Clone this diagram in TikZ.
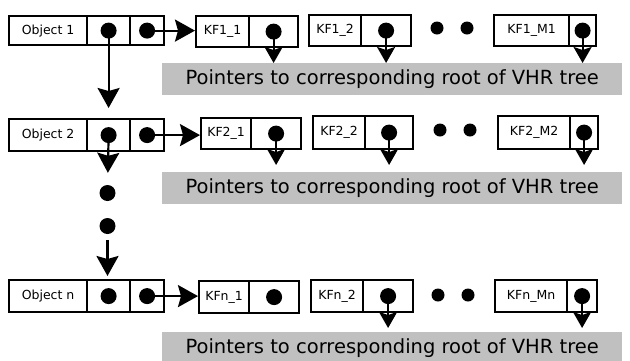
\documentclass[tikz,border=0pt]{standalone}
\usepackage{fontspec}
\setmainfont{DejaVu Sans}
\usetikzlibrary{arrows.meta}
\definecolor{barfill}{RGB}{192,192,192}

\begin{document}
\begin{tikzpicture}[x=1pt,y=-1pt,
  cell/.style={draw, line width=2.2pt, inner sep=0pt, anchor=north west,
    font=\fontsize{12.5}{14}\selectfont},
  ptrdot/.style={circle, fill, inner sep=0pt, minimum size=16pt},
  gapdot/.style={circle, fill, inner sep=0pt, minimum size=13pt},
  link/.style={line width=2.2pt, -{Stealth[length=20pt,width=22pt,inset=3pt]}},
  ref/.style={line width=2.2pt, -{Stealth[length=16pt,width=18pt,inset=3pt]}},
  bar/.style={fill=barfill, anchor=north west, inner sep=0pt,
    minimum width=460pt, minimum height=32pt,
    font=\fontsize{19.5}{22}\selectfont}
]
\useasboundingbox (0,0) rectangle (630,360);
\clip (0,0) rectangle (630,360);

% ---------- object 1 ----------
\node[cell, minimum width=78pt, minimum height=29pt] (o1t) at (8,15) {Object 1};
\node[cell, minimum width=43pt, minimum height=29pt] (o1a) at (86,15) {};
\node[cell, minimum width=34pt, minimum height=29pt] (o1b) at (129,15) {};
\node[cell, minimum width=53pt, minimum height=31pt] (k11t) at (195,15) {KF1\_1};
\node[cell, minimum width=49pt, minimum height=31pt] (k11p) at (248,15) {};
\node[cell, minimum width=52pt, minimum height=31pt] (k12t) at (308,14) {KF1\_2};
\node[cell, minimum width=50pt, minimum height=31pt] (k12p) at (360,14) {};
\node[cell, minimum width=75pt, minimum height=31pt] (k1mt) at (493,14) {KF1\_M1};
\node[cell, minimum width=27pt, minimum height=31pt] (k1mp) at (568,14) {};
\node[ptrdot] (d1a) at (o1a.center) {};
\node[ptrdot] (d1b) at (o1b.center) {};
\node[ptrdot] (d11) at (k11p.center) {};
\node[ptrdot] (d12) at (k12p.center) {};
\node[ptrdot] (d1m) at (k1mp.center) {};
\node[gapdot] (g1a) at (437,28) {};
\node[gapdot] (g1b) at (467,28) {};
\node[bar] (bar1) at (162,63) {Pointers to corresponding root of VHR tree};

% ---------- object 2 ----------
\node[cell, minimum width=78pt, minimum height=32pt] (o2t) at (8,118) {Object 2};
\node[cell, minimum width=43pt, minimum height=32pt] (o2a) at (86,118) {};
\node[cell, minimum width=34pt, minimum height=32pt] (o2b) at (129,118) {};
\node[cell, minimum width=50pt, minimum height=31pt] (k21t) at (200,117) {KF2\_1};
\node[cell, minimum width=50pt, minimum height=31pt] (k21p) at (250,117) {};
\node[cell, minimum width=52pt, minimum height=33pt] (k22t) at (312,115) {KF2\_2};
\node[cell, minimum width=48pt, minimum height=33pt] (k22p) at (364,115) {};
\node[cell, minimum width=72pt, minimum height=33pt] (k2mt) at (497,115) {KF2\_M2};
\node[cell, minimum width=28pt, minimum height=33pt] (k2mp) at (569,115) {};
\node[ptrdot] (d2a) at (o2a.center) {};
\node[ptrdot] (d2b) at (o2b.center) {};
\node[ptrdot] (d21) at (k21p.center) {};
\node[ptrdot] (d22) at (k22p.center) {};
\node[ptrdot] (d2m) at (k2mp.center) {};
\node[gapdot] (g2a) at (440,130) {};
\node[gapdot] (g2b) at (470,130) {};
\node[bar] (bar2) at (162,172) {Pointers to corresponding root of VHR tree};

% ---------- elided objects ----------
\node[ptrdot] (v1) at (107.5,193) {};
\node[ptrdot] (v2) at (107.5,226) {};

% ---------- object n ----------
\node[cell, minimum width=78pt, minimum height=32pt] (o3t) at (8,279) {Object n};
\node[cell, minimum width=43pt, minimum height=32pt] (o3a) at (86,279) {};
\node[cell, minimum width=34pt, minimum height=32pt] (o3b) at (129,279) {};
\node[cell, minimum width=50pt, minimum height=32pt] (kn1t) at (198,280) {KFn\_1};
\node[cell, minimum width=50pt, minimum height=32pt] (kn1p) at (248,280) {};
\node[cell, minimum width=52pt, minimum height=32pt] (kn2t) at (310,279) {KFn\_2};
\node[cell, minimum width=50pt, minimum height=32pt] (kn2p) at (362,279) {};
\node[cell, minimum width=72pt, minimum height=32pt] (knmt) at (494,279) {KFn\_Mn};
\node[cell, minimum width=30pt, minimum height=32pt] (knmp) at (566,279) {};
\node[ptrdot] (d3a) at (o3a.center) {};
\node[ptrdot] (d3b) at (o3b.center) {};
\node[ptrdot] (dn1) at (kn1p.center) {};
\node[ptrdot] (dn2) at (kn2p.center) {};
\node[ptrdot] (dnm) at (knmp.center) {};
\node[gapdot] (g3a) at (438,295) {};
\node[gapdot] (g3b) at (468,295) {};
\node[bar] (bar3) at (162,332) {Pointers to corresponding root of VHR tree};

% ---------- links between objects and to first key frames ----------
\draw[link] (d1b.center) -- (d1b.center -| k11t.west);
\draw[link] (d2b.center) -- (d2b.center -| k21t.west);
\draw[link] (d3b.center) -- (d3b.center -| kn1t.west);
\draw[link, shorten >=10pt] (d1a.center) -- (d1a.center |- o2a.north);
\draw[link, shorten >=12pt] (d2a.center) -- (v1);
\draw[link, shorten <=6pt, shorten >=3pt] (v2) -- (v2 |- o3a.north);

% ---------- pointers to tree roots ----------
\draw[ref] (d11.center) -- (d11.center |- bar1.north);
\draw[ref] (d12.center) -- (d12.center |- bar1.north);
\draw[ref] (d1m.center) -- (d1m.center |- bar1.north);
\draw[ref, shorten >=7pt] (d21.center) -- (d21.center |- bar2.north);
\draw[ref, shorten >=7pt] (d22.center) -- (d22.center |- bar2.north);
\draw[ref, shorten >=7pt] (d2m.center) -- (d2m.center |- bar2.north);
\draw[ref, shorten >=4pt] (dn2.center) -- (dn2.center |- bar3.north);
\draw[ref, shorten >=4pt] (dnm.center) -- (dnm.center |- bar3.north);
\end{tikzpicture}
\end{document}
